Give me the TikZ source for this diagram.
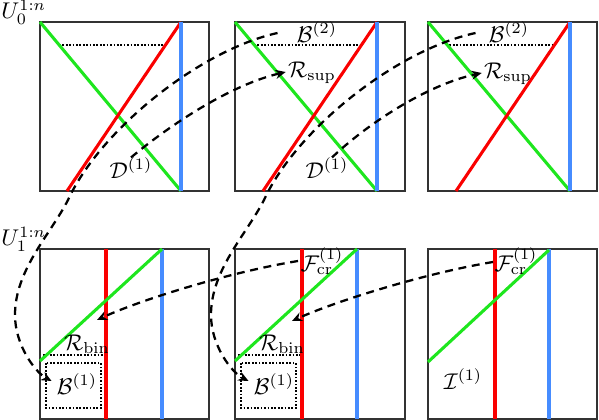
\documentclass[tikz,border=0pt]{standalone}
\usetikzlibrary{calc,arrows.meta}
\definecolor{lgreen}{RGB}{30,230,30}
\definecolor{lred}{RGB}{250,0,0}
\definecolor{lblue}{RGB}{70,140,255}
\begin{document}
\begin{tikzpicture}[x=0.44pt,y=-0.44pt,
  frame/.style={draw=black!80,line width=0.6pt},
  gline/.style={draw=lgreen,line width=1.35pt},
  rline/.style={draw=lred,line width=1.35pt},
  bline/.style={draw=lblue,line width=1.35pt},
  dotline/.style={draw=black,line width=1pt,dash pattern=on 0.75pt off 0.75pt},
  darr/.style={draw=black,line width=1pt,dash pattern=on 3.5pt off 2.5pt,-{Stealth[length=4.5pt,width=4pt]}},
  lbl/.style={inner sep=0pt}]
\useasboundingbox (0,0) rectangle (599,420);
% ---------- top row ----------
\draw[frame] (40,22) rectangle (209,191);
\draw[frame] (235,22) rectangle (405,191);
\draw[frame] (428,22) rectangle (597,191);
% box 1
\draw[dotline] (59,45) -- (166,45);
\draw[gline] (40,22) -- (181,191);
\draw[rline] (67,191) -- (181,22);
\draw[bline] (181,22) -- (181,191);
% box 2
\draw[dotline] (254,45) -- (362,45);
\draw[gline] (235,22) -- (377,191);
\draw[rline] (263,191) -- (377,22);
\draw[bline] (377,22) -- (377,191);
% box 3
\draw[dotline] (446,45) -- (555,45);
\draw[gline] (428,22) -- (570,191);
\draw[rline] (456,191) -- (570,22);
\draw[bline] (570,22) -- (570,191);
% ---------- bottom row ----------
\draw[frame] (40,249) rectangle (209,419);
\draw[frame] (235,249) rectangle (405,419);
\draw[frame] (428,249) rectangle (597,419);
% box 1
\draw[dotline] (43,355) -- (105,355);
\draw[dotline] (46,363) rectangle (101,408);
\draw[rline] (106,249) -- (106,419);
\draw[bline] (162,249) -- (162,419);
\draw[gline] (40,361) -- (162,249);
% box 2
\draw[dotline] (238,355) -- (300,355);
\draw[dotline] (241,363) rectangle (296,408);
\draw[rline] (302,249) -- (302,419);
\draw[bline] (357,249) -- (357,419);
\draw[gline] (235,361) -- (357,249);
% box 3
\draw[rline] (495,249) -- (495,419);
\draw[bline] (549,249) -- (549,419);
\draw[gline] (428,362) -- (549,250);
% ---------- labels ----------
\node[lbl,anchor=west] (U0) at (1,12) {$U_0^{1:n}$};
\node[lbl,anchor=west] (U1) at (1,239) {$U_1^{1:n}$};
\node[lbl] (Bb2) at (317,32) {$\mathcal{B}^{(2)}$};
\node[lbl] (Bc2) at (509,32) {$\mathcal{B}^{(2)}$};
\node[lbl] (Rb) at (312,73) {$\mathcal{R}_{\mathrm{sup}}$};
\node[lbl] (Rc) at (508,74) {$\mathcal{R}_{\mathrm{sup}}$};
\node[lbl] (Da) at (131,168) {$\mathcal{D}^{(1)}$};
\node[lbl] (Db) at (327,168) {$\mathcal{D}^{(1)}$};
\node[lbl] (RBa) at (87,344) {$\mathcal{R}_{\mathrm{bin}}$};
\node[lbl] (RBb) at (282,344) {$\mathcal{R}_{\mathrm{bin}}$};
\node[lbl] (B1a) at (77,384) {$\mathcal{B}^{(1)}$};
\node[lbl] (B1b) at (274,384) {$\mathcal{B}^{(1)}$};
\node[lbl] (Fb) at (322,261) {$\mathcal{F}_{\mathrm{cr}}^{(1)}$};
\node[lbl] (Fc) at (516,261) {$\mathcal{F}_{\mathrm{cr}}^{(1)}$};
\node[lbl] (Ic) at (463,379) {$\mathcal{I}^{(1)}$};
\coordinate (ta) at (97,320);
\coordinate (tb) at (292,321);
% ---------- dashed connectors ----------
\draw[darr] ($(Bb2.west)+(-19,1)$) .. controls (200,50) and (100,130) .. (68,200)
  .. controls (50,235) and (15,270) .. (15,315)
  .. controls (15,345) and (35,372) .. ($(B1a.west)+(-5,-3)$);
\draw[darr] ($(Bc2.west)+(-13,1)$) .. controls (396,50) and (296,130) .. (264,200)
  .. controls (246,235) and (211,270) .. (211,315)
  .. controls (211,345) and (231,372) .. ($(B1b.west)+(-5,-3)$);
\draw[darr] (Da.north) .. controls (170,125) and (230,85) .. ($(Rb.west)+(-2,-1)$);
\draw[darr] ($(Db.north)+(5,0)$) .. controls (366,125) and (426,85) .. ($(Rc.west)+(-2,-1)$);
\draw[darr] ($(Fb.west)+(-2,0)$) .. controls (230,272) and (140,300) .. (ta);
\draw[darr] ($(Fc.west)+(-1,1)$) .. controls (426,273) and (336,301) .. (tb);
\end{tikzpicture}
\end{document}
